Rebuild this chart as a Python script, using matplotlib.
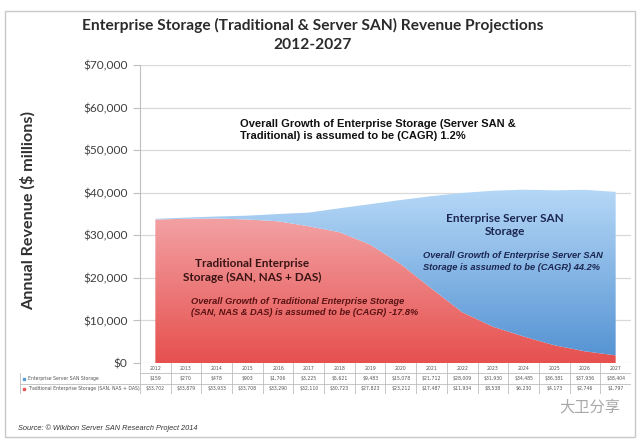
import numpy as np
import matplotlib
matplotlib.use('Agg')
import matplotlib.pyplot as plt
from matplotlib.colors import LinearSegmentedColormap
from matplotlib.patches import Rectangle
from matplotlib.ticker import FuncFormatter

years = [2012, 2013, 2014, 2015, 2016, 2017, 2018, 2019,
         2020, 2021, 2022, 2023, 2024, 2025, 2026, 2027]
server_san = [159, 270, 478, 903, 1706, 3225, 5621, 9483,
              15078, 21712, 28009, 31930, 34485, 36381, 37936, 38404]
traditional = [33702, 33879, 33933, 33708, 33290, 32110, 30723, 27823,
               23212, 17487, 11934, 8538, 6230, 4173, 2746, 1797]

row_labels = ['Enterprise Server SAN Storage',
              'Traditional Enterprise Storage (SAN, NAS + DAS)']

W, H = 640, 441
fig = plt.figure(figsize=(W / 100, H / 100), dpi=100)
fig.patch.set_facecolor('white')

def px(x0, y0, x1, y1):
    # pixel box -> figure fraction [l, b, w, h]
    return [x0 / W, 1 - y1 / H, (x1 - x0) / W, (y1 - y0) / H]

# outer frame
fig.patches.append(Rectangle((5 / W, 1 - 437 / H), 630 / W, 426 / H,
                             transform=fig.transFigure, fill=False,
                             edgecolor='#c8c8c8', linewidth=1))

ax = fig.add_axes(px(140, 65, 631, 363))
x = np.arange(len(years))
trad = np.array(traditional, dtype=float)
total = trad + np.array(server_san, dtype=float)


def gradient_area(x, y1, y2, c_top, c_bot, ytop):
    poly = ax.fill_between(x, y1, y2, facecolor='none', edgecolor='none')
    grad = np.linspace(0, 1, 256).reshape(-1, 1)
    cmap = LinearSegmentedColormap.from_list('g', [c_top, c_bot])
    im = ax.imshow(grad, cmap=cmap, aspect='auto', origin='upper',
                   extent=[x.min(), x.max(), 0, ytop], zorder=2)
    im.set_clip_path(poly.get_paths()[0], ax.transData)


gradient_area(x, 0, trad, '#f3a3a6', '#e6504e', 35000)
gradient_area(x, trad, total, '#b6d8f7', '#5291d2', 41000)

ax.set_xlim(-0.5, len(years) - 0.5)
ax.set_ylim(0, 70000)
ax.set_yticks(np.arange(0, 70001, 10000))
ax.yaxis.set_major_formatter(FuncFormatter(lambda v, p: '${:,.0f}'.format(v)))
ax.grid(axis='y', color='#d9d9d9', linewidth=0.9, zorder=0)
ax.set_axisbelow(True)
ax.set_xticks([])
for s in ['top', 'right', 'bottom']:
    ax.spines[s].set_visible(False)
ax.spines['left'].set_color('#bfbfbf')
ax.tick_params(axis='y', length=5, color='#bfbfbf', labelsize=8.6,
               labelcolor='#404040', pad=4)
for t in ax.get_yticklabels():
    t.set_fontfamily('Lato')

fig.text(28 / W, 1 - 210 / H, 'Annual Revenue ($ millions)', fontfamily='Lato',
         fontweight='bold', fontsize=11.6, color='#303030', rotation=90,
         ha='center', va='center')

# annotations
ax.text(2.75, 57300, 'Overall Growth of Enterprise Storage (Server SAN &\n'
        'Traditional) is assumed to be (CAGR) 1.2%',
        fontfamily='Liberation Sans', fontweight='bold', fontsize=8.0,
        color='#111111', va='top', ha='left', linespacing=1.2, zorder=5)
ax.text(11.39, 35300, 'Enterprise Server SAN\nStorage', fontfamily='Lato',
        fontweight='bold', fontsize=8.5, color='#1b2650', ha='center',
        va='top', linespacing=1.2, zorder=5)
ax.text(8.72, 26200, 'Overall Growth of Enterprise Server SAN\n'
        'Storage is assumed to be (CAGR) 44.2%',
        fontfamily='Liberation Sans', fontweight='bold', fontstyle='italic',
        fontsize=6.7, color='#1b2650', ha='left', va='top',
        linespacing=1.3, zorder=5)
ax.text(3.15, 24600, 'Traditional Enterprise\nStorage (SAN, NAS + DAS)',
        fontfamily='Lato', fontweight='bold', fontsize=8.5, color='#3a1414',
        ha='center', va='top', linespacing=1.25, zorder=5)
ax.text(1.16, 15500, 'Overall Growth of Traditional Enterprise Storage\n'
        '(SAN, NAS & DAS) is assumed to be (CAGR) -17.8%',
        fontfamily='Liberation Sans', fontweight='bold', fontstyle='italic',
        fontsize=6.7, color='#5a1212', ha='left', va='top',
        linespacing=1.3, zorder=5)

# data table
tab = fig.add_axes(px(20, 363, 631, 394))
lab_w = 120 / 30.7
tab.set_xlim(-0.5 - lab_w, len(years) - 0.5)
tab.set_ylim(3, 0)
tab.axis('off')
lc = '#bdbdbd'
tab.plot([-0.5, len(years) - 0.5], [1, 1], color=lc, lw=0.6)
for yy in [2, 3]:
    tab.plot([-0.5 - lab_w, len(years) - 0.5], [yy, yy], color=lc, lw=0.6)
tab.plot([-0.5 - lab_w] * 2, [1, 3], color=lc, lw=0.6)
for i in range(len(years) + 1):
    tab.plot([i - 0.5] * 2, [0, 3], color=lc, lw=0.6)
tf = dict(fontfamily='DejaVu Sans', fontsize=3.3, color='#555555',
          ha='center', va='center')
for i, yr in enumerate(years):
    tab.text(i, 0.5, str(yr), **tf)
    tab.text(i, 1.5, '${:,}'.format(server_san[i]), **tf)
    tab.text(i, 2.5, '${:,}'.format(traditional[i]), **tf)
for r, (lbl, c) in enumerate(zip(row_labels, ['#5b9bd5', '#e8585a'])):
    tab.plot(-0.5 - lab_w + 0.12, 1.5 + r, marker='s', ms=1.6, color=c)
    tab.text(-0.5 - lab_w + 0.25, 1.5 + r, lbl, **dict(tf, ha='left'))

fig.text(18 / W, 1 - 428 / H, 'Source: \u00a9 Wikibon Server SAN Research Project 2014',
         fontfamily='Liberation Sans', fontstyle='italic', fontsize=5.3,
         color='#333333', va='center', ha='left')
fig.text(590 / W, 1 - 407 / H, '大卫分享', fontfamily='Noto Sans CJK SC',
         fontsize=11, color='#a8a8a8', va='center', ha='center')

fig.text(313 / W, 1 - 25 / H,
         'Enterprise Storage (Traditional & Server SAN) Revenue Projections',
         fontfamily='Lato', fontweight='bold', fontsize=11.2, color='#2b2b2b',
         ha='center', va='center')
fig.text(313 / W, 1 - 45 / H, '2012-2027', fontfamily='Lato',
         fontweight='bold', fontsize=11.2, color='#2b2b2b', ha='center',
         va='center')

fig.savefig('out.png', dpi=100, facecolor='white')
